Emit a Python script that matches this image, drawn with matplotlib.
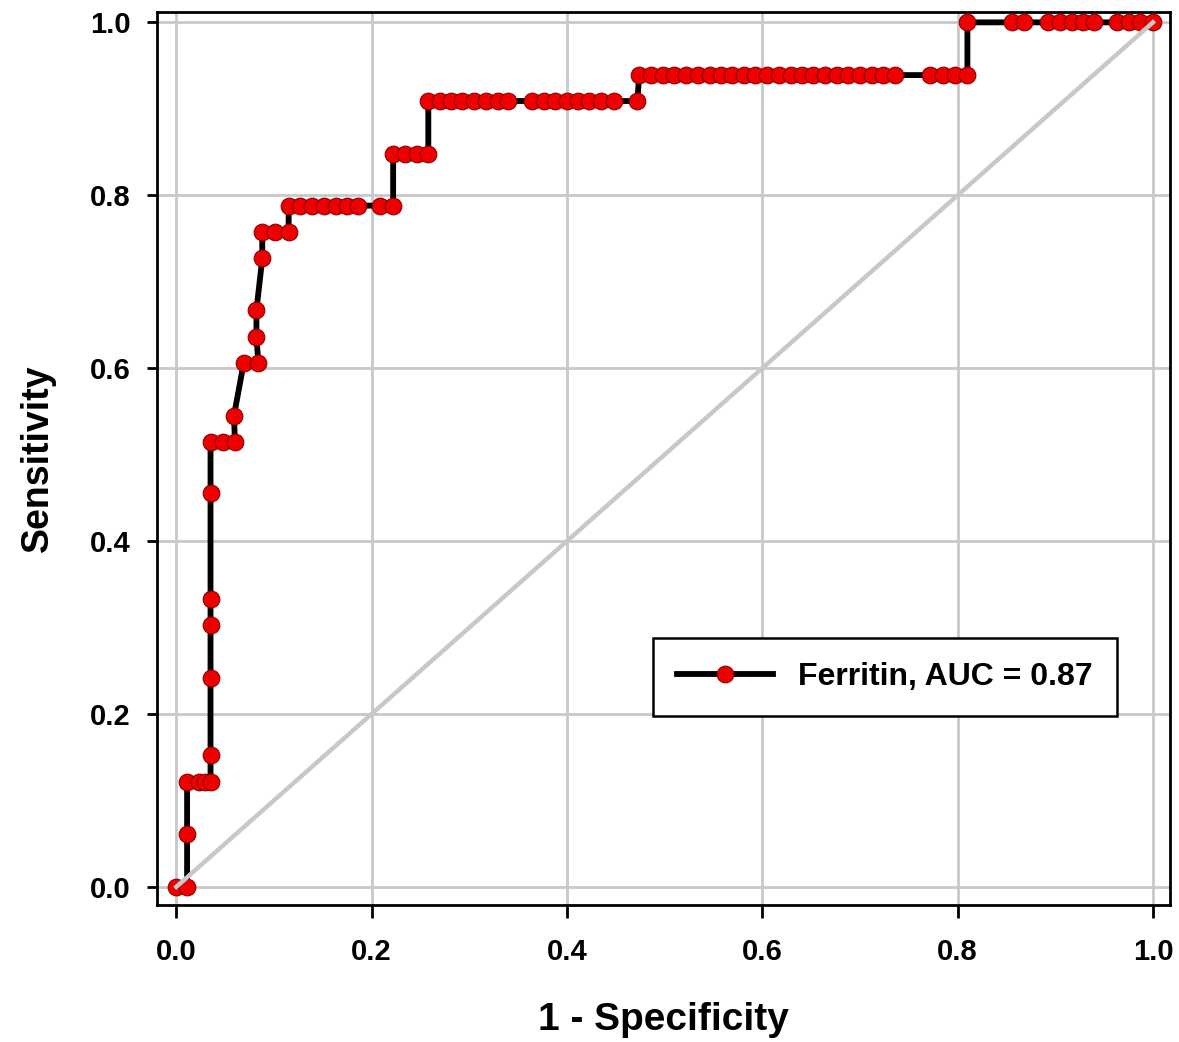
import numpy as np
import matplotlib
matplotlib.use('Agg')
import matplotlib.pyplot as plt

plt.rcParams['font.family'] = ['Liberation Sans', 'DejaVu Sans']
plt.rcParams['font.weight'] = 'bold'

# ROC points (1 - specificity, sensitivity)
fpr = [0.000, 0.011,
       0.011, 0.011,
       0.023, 0.029, 0.035,
       0.035, 0.035, 0.035, 0.035, 0.035, 0.035,
       0.048, 0.060,
       0.059,
       0.069, 0.084,
       0.082, 0.082,
       0.088, 0.088, 0.101, 0.115,
       0.115, 0.127, 0.139, 0.151, 0.163, 0.175, 0.186, 0.209, 0.222,
       0.222, 0.234, 0.246, 0.258,
       0.258, 0.270, 0.281, 0.293, 0.305, 0.317, 0.329, 0.340,
       0.364, 0.376, 0.388, 0.400, 0.411, 0.423, 0.435, 0.448, 0.472,
       0.474, 0.486, 0.498, 0.510, 0.522, 0.534, 0.546, 0.558, 0.569,
       0.581, 0.593, 0.605, 0.617, 0.629, 0.641, 0.652, 0.664, 0.676,
       0.688, 0.700, 0.712, 0.724, 0.736,
       0.772, 0.785, 0.797, 0.810,
       0.810, 0.856, 0.868, 0.893, 0.905, 0.917, 0.928, 0.940,
       0.963, 0.975, 0.987, 1.000]
tpr = [0.000, 0.000,
       0.061, 0.121,
       0.121, 0.121, 0.121,
       0.152, 0.242, 0.303, 0.333, 0.455, 0.515,
       0.515, 0.515,
       0.545,
       0.606, 0.606,
       0.636, 0.667,
       0.727, 0.758, 0.758, 0.758,
       0.788, 0.788, 0.788, 0.788, 0.788, 0.788, 0.788, 0.788, 0.788,
       0.848, 0.848, 0.848, 0.848,
       0.909, 0.909, 0.909, 0.909, 0.909, 0.909, 0.909, 0.909,
       0.909, 0.909, 0.909, 0.909, 0.909, 0.909, 0.909, 0.909, 0.909,
       0.939, 0.939, 0.939, 0.939, 0.939, 0.939, 0.939, 0.939, 0.939,
       0.939, 0.939, 0.939, 0.939, 0.939, 0.939, 0.939, 0.939, 0.939,
       0.939, 0.939, 0.939, 0.939, 0.939,
       0.939, 0.939, 0.939, 0.939,
       1.000, 1.000, 1.000, 1.000, 1.000, 1.000, 1.000, 1.000,
       1.000, 1.000, 1.000, 1.000]
label = 'Ferritin, AUC = 0.87'
ticks = [0.0, 0.2, 0.4, 0.6, 0.8, 1.0]

fig = plt.figure(figsize=(11.79, 10.42), dpi=100)
ax = fig.add_axes([0.133, 0.1315, 0.859, 0.857])

ax.plot(fpr, tpr, color='black', linewidth=4.2, marker='o', markersize=12,
        markerfacecolor='#ee0000', markeredgecolor='#8b0000',
        markeredgewidth=0.8, label=label, zorder=3)
ax.plot([0, 1], [0, 1], color='#c8c8c8', linewidth=3.2, zorder=4)

ax.set_xlim(-0.02, 1.017)
ax.set_ylim(-0.021, 1.012)
ax.set_xticks(ticks)
ax.set_yticks(ticks)
ax.set_xticklabels(['{:.1f}'.format(t) for t in ticks])
ax.set_yticklabels(['{:.1f}'.format(t) for t in ticks])
ax.grid(True, color='#c8c8c8', linewidth=2)
ax.set_axisbelow(True)
for s in ax.spines.values():
    s.set_linewidth(2)
ax.tick_params(axis='x', direction='out', length=9, width=2, labelsize=21, pad=15)
ax.tick_params(axis='y', direction='out', length=7, width=2, labelsize=21, pad=12)

ax.set_xlabel('1 - Specificity', fontsize=28, fontweight='bold', labelpad=26)
ax.set_ylabel('Sensitivity', fontsize=27, fontweight='bold', labelpad=24)

leg = ax.legend(loc='lower right', bbox_to_anchor=(0.948, 0.2115), fancybox=False,
                framealpha=1, edgecolor='black', fontsize=23, handlelength=3.0,
                borderpad=0.75, borderaxespad=0)
leg.get_frame().set_linewidth(1.8)

plt.savefig('out.png', dpi=100)
